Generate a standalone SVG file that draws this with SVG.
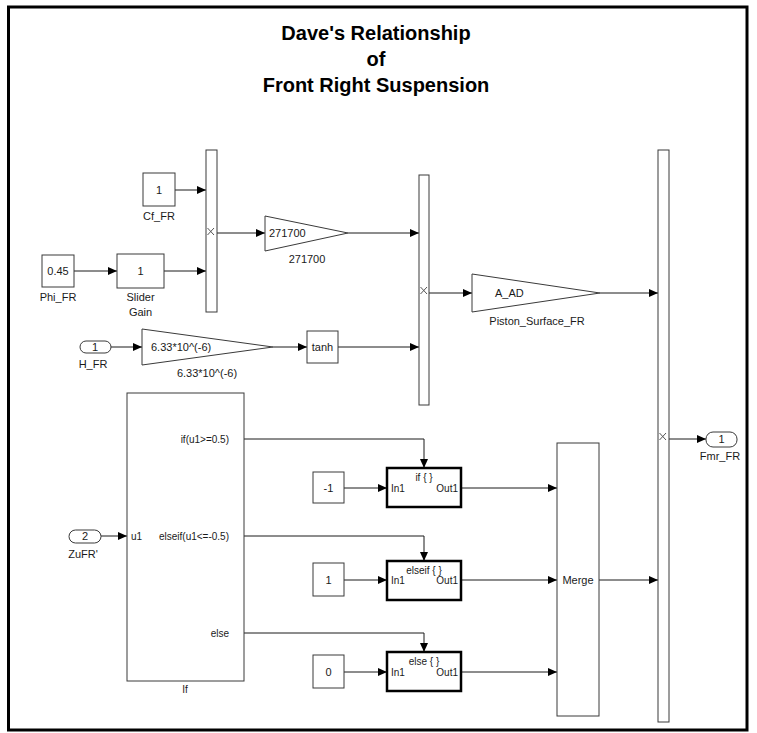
<svg xmlns="http://www.w3.org/2000/svg" width="757" height="733" viewBox="0 0 757 733">
<style>
.blk{fill:#fff;stroke:#3a3a3a;stroke-width:1}
.act{fill:#fff;stroke:#000;stroke-width:2.5}
.t{font-family:"Liberation Sans",Arial,sans-serif;font-size:11px;fill:#1a1a1a}
.s{font-family:"Liberation Sans",Arial,sans-serif;font-size:10px;fill:#1a1a1a}
.c{text-anchor:middle}
.r{text-anchor:end}
.title{font-family:"Liberation Sans",Arial,sans-serif;font-size:20px;font-weight:bold;fill:#000;text-anchor:middle}
.w{fill:none;stroke:#1a1a1a;stroke-width:1}
.x{stroke:#555;stroke-width:1}
</style>
<defs>
<marker id="ah" markerUnits="userSpaceOnUse" markerWidth="10" markerHeight="9" refX="9" refY="4" orient="auto">
<path d="M0,0 L9,4 L0,8 z" fill="#000"/>
</marker>
</defs>
<rect x="0" y="0" width="757" height="733" fill="#fff"/>
<rect x="8.5" y="7" width="738.5" height="723" fill="none" stroke="#000" stroke-width="3"/>
<g id="title">
<text class="title" x="376" y="40">Dave's Relationship</text>
<text class="title" x="376" y="66">of</text>
<text class="title" x="376" y="92">Front Right Suspension</text>
</g>
<g id="connectors" class="w">
<path d="M175,190 H206" marker-end="url(#ah)"/>
<path d="M74,271 H117" marker-end="url(#ah)"/>
<path d="M164,271 H206" marker-end="url(#ah)"/>
<path d="M217,233 H265" marker-end="url(#ah)"/>
<path d="M348,233 H419" marker-end="url(#ah)"/>
<path d="M111,347 H142" marker-end="url(#ah)"/>
<path d="M273,347 H307" marker-end="url(#ah)"/>
<path d="M338,347 H419" marker-end="url(#ah)"/>
<path d="M429,293 H472" marker-end="url(#ah)"/>
<path d="M600,293 H658" marker-end="url(#ah)"/>
<path d="M669,439 H706" marker-end="url(#ah)"/>
<path d="M101,536 H127" marker-end="url(#ah)"/>
<path d="M244,439 H424 V468" marker-end="url(#ah)"/>
<path d="M244,536 H424 V561" marker-end="url(#ah)"/>
<path d="M244,633 H424 V652" marker-end="url(#ah)"/>
<path d="M344,488 H387" marker-end="url(#ah)"/>
<path d="M344,580 H387" marker-end="url(#ah)"/>
<path d="M344,672 H387" marker-end="url(#ah)"/>
<path d="M461,488 H557" marker-end="url(#ah)"/>
<path d="M461,580 H557" marker-end="url(#ah)"/>
<path d="M461,672 H557" marker-end="url(#ah)"/>
<path d="M599,580 H658" marker-end="url(#ah)"/>
</g>
<g id="Cf_FR">
<rect class="blk" x="143" y="173" width="32" height="33"/>
<text class="t c" x="159" y="194">1</text>
<text class="t c" x="159" y="220">Cf_FR</text>
</g>
<g id="Phi_FR">
<rect class="blk" x="42" y="255" width="32" height="32"/>
<text class="t c" x="58" y="275">0.45</text>
<text class="t c" x="58" y="301">Phi_FR</text>
</g>
<g id="SliderGain">
<rect class="blk" x="117" y="254" width="47" height="34"/>
<text class="t c" x="140.5" y="275">1</text>
<text class="t c" x="140.5" y="301">Slider</text>
<text class="t c" x="140.5" y="316">Gain</text>
</g>
<g id="Product1">
<rect class="blk" x="206" y="150" width="11" height="162"/>
<path class="x" d="M207.5,228 L214,235 M214,228 L207.5,235"/>
</g>
<g id="Gain271700">
<polygon class="blk" points="265,216 348,233 265,251"/>
<text class="t" x="269" y="237">271700</text>
<text class="t c" x="307" y="263">271700</text>
</g>
<g id="H_FR">
<rect class="blk" x="80" y="341" width="31" height="12" rx="6"/>
<text class="t c" x="95" y="351">1</text>
<text class="t c" x="93" y="368">H_FR</text>
</g>
<g id="Gain633">
<polygon class="blk" points="142,329 273,347 142,365"/>
<text class="t" x="151" y="351">6.33*10^(-6)</text>
<text class="t c" x="207" y="377">6.33*10^(-6)</text>
</g>
<g id="tanh">
<rect class="blk" x="307" y="331" width="31" height="32"/>
<text class="t c" x="322.5" y="351">tanh</text>
</g>
<g id="Product2">
<rect class="blk" x="419" y="175" width="10" height="230"/>
<path class="x" d="M420.5,287 L427,294 M427,287 L420.5,294"/>
</g>
<g id="Piston_Surface_FR">
<polygon class="blk" points="472,274 600,293 472,312"/>
<text class="t" x="495" y="297">A_AD</text>
<text class="t c" x="537" y="325">Piston_Surface_FR</text>
</g>
<g id="Product3">
<rect class="blk" x="658" y="150" width="11" height="572"/>
<path class="x" d="M659.5,433 L666,440 M666,433 L659.5,440"/>
</g>
<g id="Fmr_FR">
<rect class="blk" x="706" y="432" width="31" height="15" rx="7"/>
<text class="t c" x="721.5" y="443">1</text>
<text class="t c" x="720" y="460">Fmr_FR</text>
</g>
<g id="ZuFR">
<rect class="blk" x="69" y="530" width="32" height="13" rx="6.5"/>
<text class="t c" x="85" y="540">2</text>
<text class="t c" x="83" y="558">ZuFR'</text>
</g>
<g id="If">
<rect class="blk" x="127" y="393" width="117" height="288"/>
<text class="s r" x="229" y="443">if(u1&gt;=0.5)</text>
<text class="s r" x="229" y="540">elseif(u1&lt;=-0.5)</text>
<text class="s r" x="229" y="637">else</text>
<text class="s" x="131" y="540">u1</text>
<text class="s c" x="185" y="693">If</text>
</g>
<g id="ConstNeg1">
<rect class="blk" x="313" y="472" width="31" height="31"/>
<text class="t c" x="328.5" y="492">-1</text>
</g>
<g id="Const1">
<rect class="blk" x="313" y="563" width="31" height="33"/>
<text class="t c" x="328.5" y="584">1</text>
</g>
<g id="Const0">
<rect class="blk" x="313" y="655" width="31" height="33"/>
<text class="t c" x="328.5" y="676">0</text>
</g>
<g id="IfAction">
<rect class="act" x="387" y="468" width="74" height="39"/>
<text class="s c" x="424" y="481">if { }</text>
<text class="s" x="391" y="492">In1</text>
<text class="s r" x="458" y="492">Out1</text>
</g>
<g id="ElseifAction">
<rect class="act" x="387" y="561" width="74" height="39"/>
<text class="s c" x="424" y="574">elseif { }</text>
<text class="s" x="391" y="584">In1</text>
<text class="s r" x="458" y="584">Out1</text>
</g>
<g id="ElseAction">
<rect class="act" x="387" y="652" width="74" height="39"/>
<text class="s c" x="424" y="665">else { }</text>
<text class="s" x="391" y="676">In1</text>
<text class="s r" x="458" y="676">Out1</text>
</g>
<g id="Merge">
<rect class="blk" x="557" y="443" width="42" height="273"/>
<text class="t c" x="578" y="584">Merge</text>
</g>
</svg>
